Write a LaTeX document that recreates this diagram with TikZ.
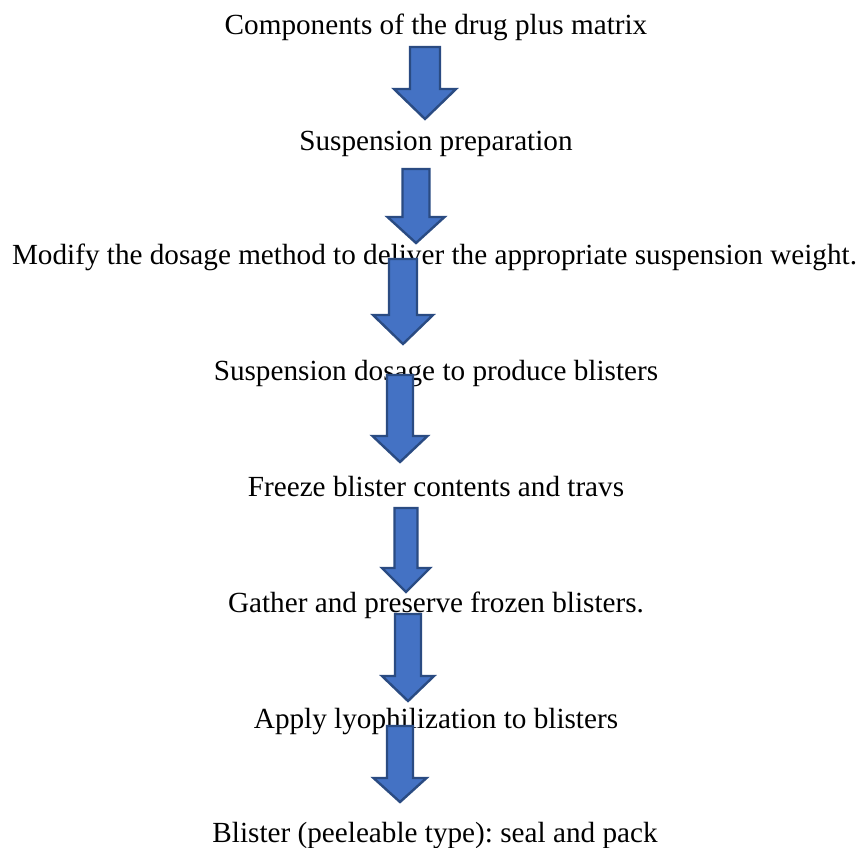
\documentclass[tikz,border=0pt]{standalone}
\usepackage{fontspec}
\setmainfont{Liberation Serif}
\usetikzlibrary{positioning}
\frenchspacing

\definecolor{arrowfill}{HTML}{4472C4}
\definecolor{arrowline}{HTML}{2A4B82}

\begin{document}
\begin{tikzpicture}[x=0.5pt, y=-0.5pt,
    steptext/.style={anchor=base, inner sep=0pt, font=\fontsize{14.6}{17}\selectfont},
    blockarrow/.style={fill=arrowfill, draw=arrowline, line width=1.2pt, line join=miter}]
    \useasboundingbox (0,0) rectangle (860,847);

    % Process steps
    \node[steptext] (comp)    at (436,34)  {Components of the drug plus matrix};
    \node[steptext] (susp)    at (436,150) {Suspension preparation};
    \node[steptext] (modify)  at (434.5,264) {Modify the dosage method to deliver the appropriate suspension weight.};
    \node[steptext] (dosage)  at (436,380) {Suspension dosage to produce blisters};
    \node[steptext] (freeze)  at (436,496) {Freeze blister contents and travs};
    \node[steptext] (gather)  at (436,612) {Gather and preserve frozen blisters.};
    \node[steptext] (lyo)     at (436,728) {Apply lyophilization to blisters};
    \node[steptext] (seal)    at (435,842) {Blister (peeleable type): seal and pack};

    % Block arrows: centre x / top y / head y / tip y / half shaft / half head
    \foreach \cx/\ty/\hy/\by/\sw/\hw in {425/47/89/119/15/31, 416/169/217/243/13.5/28.5,
        403/259/315/344/14/30, 400/375/436/462/13/27.5, 406/508/568/592/11.5/24,
        408/614/676/701/13/26, 400/726/778/802/13/26.5}
        \draw[blockarrow] (\cx-\sw,\ty) -- (\cx+\sw,\ty) -- (\cx+\sw,\hy) -- (\cx+\hw,\hy)
            -- (\cx,\by) -- (\cx-\hw,\hy) -- (\cx-\sw,\hy) -- cycle;
\end{tikzpicture}
\end{document}
